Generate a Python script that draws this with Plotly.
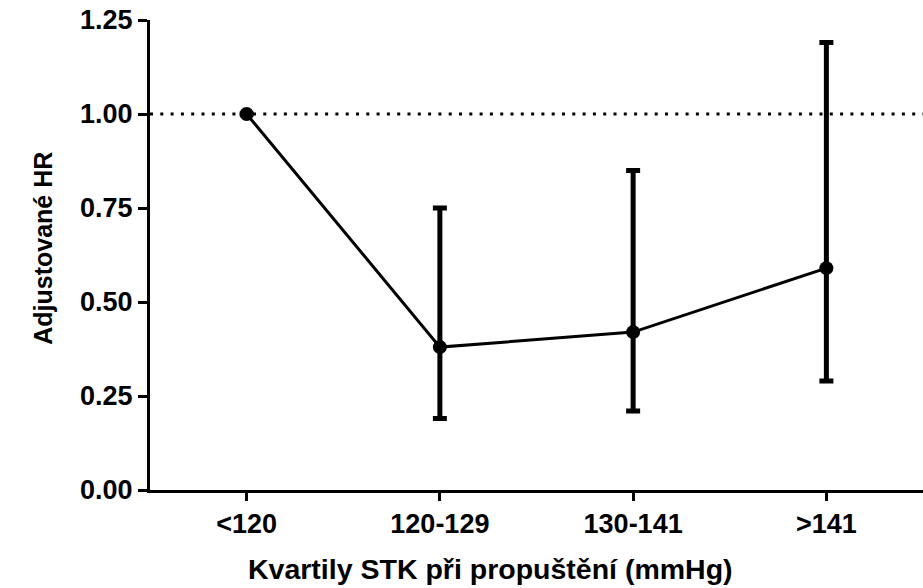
import plotly.graph_objects as go

# Quartiles of systolic BP at discharge and adjusted hazard ratios
categories = ["<120", "120-129", "130-141", ">141"]
hr = [1.00, 0.38, 0.42, 0.59]
ci_lower = [1.00, 0.19, 0.21, 0.29]
ci_upper = [1.00, 0.75, 0.85, 1.19]

y_ticks = [0.00, 0.25, 0.50, 0.75, 1.00, 1.25]
y_tick_text = ["0.00", "0.25", "0.50", "0.75", "1.00", "1.25"]
reference_hr = 1.0

err_plus = [u - h for u, h in zip(ci_upper, hr)]
err_minus = [h - l for h, l in zip(hr, ci_lower)]
x_pos = list(range(len(categories)))

font_family = "Liberation Sans, Arial, sans-serif"

fig = go.Figure()

# Reference line at HR = 1
fig.add_trace(go.Scatter(
    x=[-0.5, 3.5], y=[reference_hr, reference_hr],
    mode="lines",
    line=dict(color="black", width=3, dash="3px,7.3px"),
    hoverinfo="skip", showlegend=False,
))

fig.add_trace(go.Scatter(
    x=x_pos, y=hr,
    mode="lines+markers",
    line=dict(color="black", width=3),
    marker=dict(color="black", size=14),
    error_y=dict(type="data", symmetric=False, array=err_plus,
                 arrayminus=err_minus, color="black", thickness=5, width=7),
    showlegend=False,
))

fig.update_layout(
    width=923, height=588,
    margin=dict(l=150, r=0, t=20, b=98),
    paper_bgcolor="white", plot_bgcolor="white",
    font=dict(family=font_family, color="black"),
    annotations=[
        dict(text="Kvartily STK při propuštění (mmHg)",
             xref="paper", yref="paper", x=0.441, y=-0.168,
             xanchor="center", yanchor="middle", showarrow=False,
             font=dict(size=28.5, family=font_family, weight="bold")),
        dict(text="Adjustované HR",
             xref="paper", yref="paper", x=-0.138, y=0.514,
             xanchor="center", yanchor="middle", showarrow=False,
             textangle=-90,
             font=dict(size=25, family=font_family, weight="bold")),
    ],
)

fig.update_xaxes(
    range=[-0.5, 3.5],
    tickmode="array", tickvals=x_pos, ticktext=categories,
    showgrid=False, zeroline=False,
    showline=True, linecolor="black", linewidth=3,
    ticks="outside", ticklen=8, tickwidth=3, tickcolor="black",
    tickfont=dict(size=27, family=font_family, weight="bold"),
)

fig.update_yaxes(
    range=[0, 1.25],
    tickmode="array", tickvals=y_ticks, ticktext=y_tick_text,
    showgrid=False, zeroline=False,
    showline=True, linecolor="black", linewidth=3,
    ticks="outside", ticklen=9, tickwidth=3, tickcolor="black",
    tickfont=dict(size=27, family=font_family, weight="bold"),
)

fig.write_html("out.html")
